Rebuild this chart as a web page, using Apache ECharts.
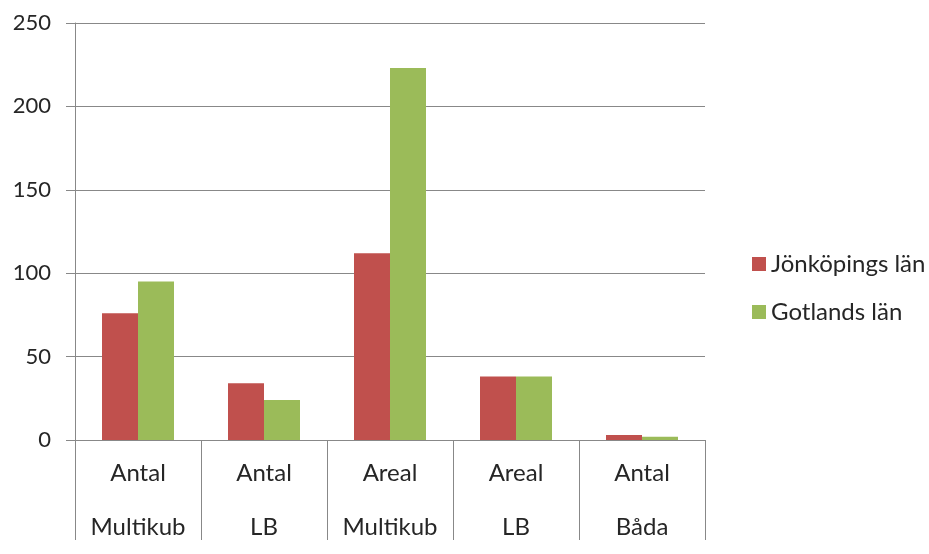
<!DOCTYPE html>
<html>
<head>
<meta charset="utf-8">
<script src="https://cdn.jsdelivr.net/npm/echarts@6/dist/echarts.min.js"></script>
<style>html,body{margin:0;padding:0;background:#fff}#c{width:929px;height:554px}</style>
</head>
<body>
<div id="c"></div>
<script>
const categories = ["Antal\nMultikub", "Antal\nLB", "Areal\nMultikub", "Areal\nLB", "Antal\nBåda"];
const seriesNames = ["Jönköpings län", "Gotlands län"];
const jonkoping = [76, 34, 112, 38, 3];
const gotland = [95, 24, 223, 38, 2];
const yTicks = { min: 0, max: 250, interval: 50 };

const FONT = "Lato, 'Open Sans', sans-serif";
const el = document.getElementById('c');
const chart = echarts.init(el);
chart.setOption({
  animation: false,
  textStyle: { fontFamily: FONT },
  grid: { left: 75, right: 224, top: 23, bottom: 99, containLabel: false },
  legend: {
    orient: 'vertical', left: 747, top: 247,
    itemWidth: 14, itemHeight: 14, itemGap: 24,
    icon: 'rect',
    textStyle: { fontSize: 24, color: '#262626', fontFamily: FONT },
    data: seriesNames
  },
  xAxis: {
    type: 'category', data: categories,
    axisLine: { lineStyle: { color: '#888', width: 1 } },
    axisTick: { show: true, length: 100, lineStyle: { color: '#888' } },
    axisLabel: { fontSize: 24, color: '#262626', lineHeight: 54, margin: 6, fontFamily: FONT, interval: 0 }
  },
  yAxis: {
    type: 'value', min: yTicks.min, max: yTicks.max, interval: yTicks.interval,
    axisLine: { show: true, lineStyle: { color: '#888' } },
    axisTick: { show: true, length: 9, lineStyle: { color: '#888' } },
    splitLine: { lineStyle: { color: '#888', width: 1 } },
    axisLabel: { fontSize: 22, color: '#262626', margin: 24, fontFamily: FONT }
  },
  series: [
    { name: seriesNames[0], type: 'bar', data: jonkoping, barWidth: 36, barGap: '0%', itemStyle: { color: '#C0504D' } },
    { name: seriesNames[1], type: 'bar', data: gotland, barWidth: 36, barGap: '0%', itemStyle: { color: '#9BBB59' } }
  ]
});
</script>
</body>
</html>
